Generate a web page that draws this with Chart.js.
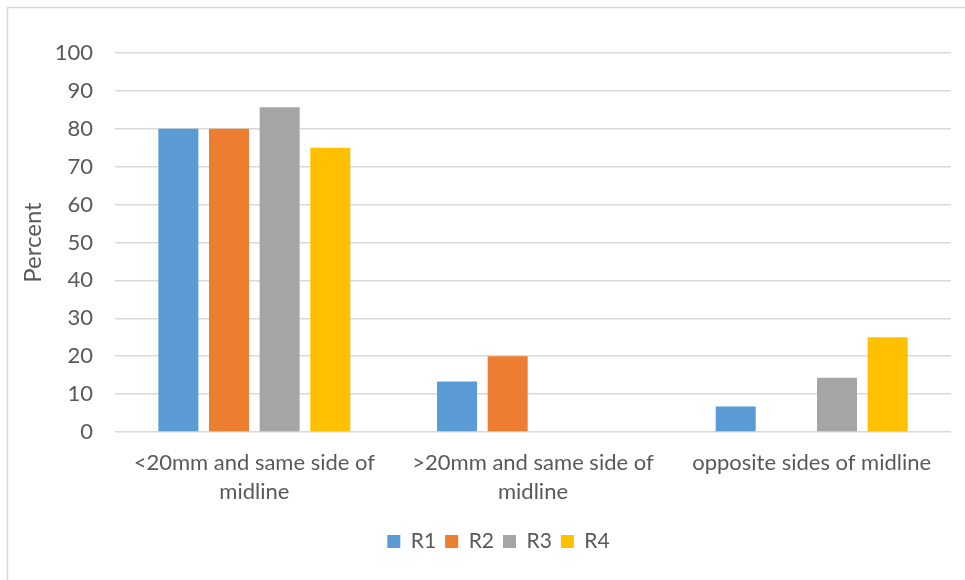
<!DOCTYPE html>
<html>
<head>
<meta charset="utf-8">
<script src="https://cdn.jsdelivr.net/npm/chart.js@4/dist/chart.umd.min.js"></script>
<style>
  html, body { margin: 0; padding: 0; background: #ffffff; }
  #wrap { position: relative; width: 965px; height: 580px; }
</style>
</head>
<body>
<div id="wrap"><canvas id="chart" width="965" height="580"></canvas></div>
<script>
// Categories, one array of text lines per category
const categories = [
  ['<20mm and same side of', 'midline'],
  ['>20mm and same side of', 'midline'],
  ['opposite sides of midline']
];
const seriesNames = ['R1', 'R2', 'R3', 'R4'];
const r1 = [80, 13.3, 6.7];
const r2 = [80, 20, 0];
const r3 = [85.7, 0, 14.3];
const r4 = [75, 0, 25];
const yTicks = [0, 10, 20, 30, 40, 50, 60, 70, 80, 90, 100];

const colors = ['#5B9BD5', '#ED7D31', '#A5A5A5', '#FFC000'];
const textColor = '#595959';
const gridColor = '#D9D9D9';
const fontFamily = 'Lato, "Open Sans", sans-serif';

// Thin frame around the chart
const framePlugin = {
  id: 'frame',
  beforeDraw(chart) {
    const ctx = chart.ctx;
    ctx.save();
    ctx.strokeStyle = gridColor;
    ctx.lineWidth = 1.5;
    ctx.strokeRect(7.5, 7.5, chart.width + 20, chart.height + 20);
    ctx.restore();
  }
};

// Nudge the legend a little to the right of the canvas centre
const legendShift = {
  id: 'legendShift',
  afterLayout(chart) {
    if (chart.legend) {
      chart.legend.left += 19;
      chart.legend.right += 19;
    }
  }
};

const series = [r1, r2, r3, r4];
new Chart(document.getElementById('chart'), {
  type: 'bar',
  data: {
    labels: categories,
    datasets: seriesNames.map((name, i) => ({
      label: name,
      data: series[i],
      backgroundColor: colors[i],
      borderWidth: 0,
      categoryPercentage: 0.727,
      barPercentage: 0.79
    }))
  },
  options: {
    responsive: false,
    animation: false,
    devicePixelRatio: 1,
    layout: { padding: { left: 8, right: 14, top: 53, bottom: 18 } },
    plugins: {
      tooltip: { enabled: false },
      legend: {
        position: 'bottom',
        labels: {
          boxWidth: 13,
          boxHeight: 13,
          padding: 9,
          color: textColor,
          font: { family: fontFamily, size: 21 }
        }
      }
    },
    scales: {
      x: {
        grid: { display: false },
        border: { display: false },
        ticks: {
          color: textColor,
          padding: 8,
          maxRotation: 0,
          autoSkip: false,
          font: { family: fontFamily, size: 22, lineHeight: 1.32 }
        },
        afterFit(scale) { scale.height = 90; }
      },
      y: {
        min: 0,
        max: 100,
        afterBuildTicks(scale) { scale.ticks = yTicks.map(v => ({ value: v })); },
        grid: { color: gridColor, lineWidth: 1.5, drawTicks: false },
        border: { display: false },
        ticks: {
          color: textColor,
          padding: 22,
          font: { family: fontFamily, size: 22 }
        },
        title: {
          display: true,
          text: 'Percent',
          color: textColor,
          padding: { top: 11, bottom: 0 },
          font: { family: fontFamily, size: 24 }
        },
        afterFit(scale) { scale.width = 107; }
      }
    }
  },
  plugins: [framePlugin, legendShift]
});
</script>
</body>
</html>
